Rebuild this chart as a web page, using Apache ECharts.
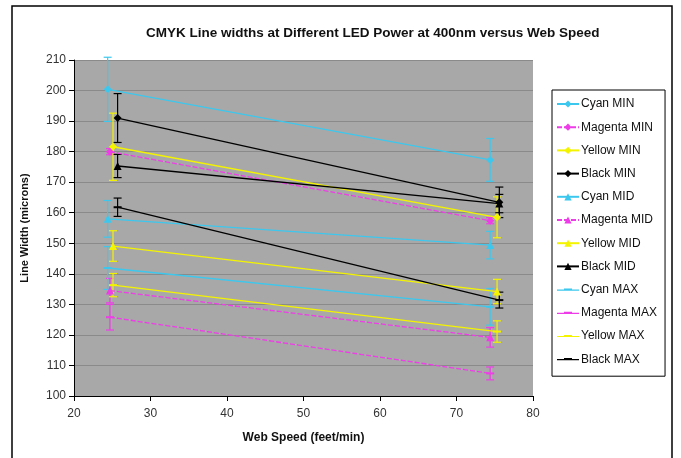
<!DOCTYPE html>
<html><head><meta charset="utf-8">
<script src="https://cdn.jsdelivr.net/npm/echarts@6/dist/echarts.min.js"></script>
<style>html,body{margin:0;padding:0;background:#fff}#c{width:681px;height:458px}</style>
</head><body><div id="c"></div>
<script>
// Series names
const seriesNames = ['Cyan MIN','Magenta MIN','Yellow MIN','Black MIN','Cyan MID','Magenta MID','Yellow MID','Black MID','Cyan MAX','Magenta MAX','Yellow MAX','Black MAX'];
// Web speed (feet/min) per colour
const cyanX = [24.4, 74.4];
const magentaX = [24.7, 74.4];
const yellowX = [25.1, 75.3];
const blackX = [25.7, 75.6];
// Line widths (microns)
const cyanMin = [200.4, 177.3];
const magentaMin = [180.0, 157.4];
const yellowMin = [181.6, 158.5];
const blackMin = [191.0, 163.4];
const cyanMid = [158.0, 149.4];
const magentaMid = [134.5, 119.2];
const yellowMid = [149.1, 134.2];
const blackMid = [175.3, 163.0];
const cyanMax = [141.9, 129.2];
const magentaMax = [125.8, 107.4];
const yellowMax = [136.3, 121.1];
const blackMax = [161.8, 131.4];
// Error bar half-widths
const cyanMinErr = [10.5, 7.0];
const magentaMinErr = [1.0, 1.0];
const yellowMinErr = [11.0, 6.7];
const blackMinErr = [8.0, 5.0];
const cyanMidErr = [6.0, 4.5];
const magentaMidErr = [4.0, 3.2];
const yellowMidErr = [5.0, 4.0];
const blackMidErr = [3.8, 3.0];
const cyanMaxErr = [7.0, 6.0];
const magentaMaxErr = [4.2, 2.1];
const yellowMaxErr = [3.8, 3.5];
const blackMaxErr = [3.0, 2.6];

const CY='#3cc8ee', MG='#ee3ce8', YL='#f4f400', BK='#000000';
const DASH = 'path://M0,0 L10,0 L10,2.5 L0,2.5 Z';
const LEG_DASH = 'path://M0,0 L0.01,0 L0.01,0.01 Z M0,9 L0.01,9 L0.01,8.99 Z M0,4.4 L22,4.4 L22,5.6 L0,5.6 Z M7,3.4 L15,3.4 L15,5.6 L7,5.6 Z';
const defs = [
  [cyanX, cyanMin, cyanMinErr, CY, 'diamond'],
  [magentaX, magentaMin, magentaMinErr, MG, 'diamond'],
  [yellowX, yellowMin, yellowMinErr, YL, 'diamond'],
  [blackX, blackMin, blackMinErr, BK, 'diamond'],
  [cyanX, cyanMid, cyanMidErr, CY, 'triangle'],
  [magentaX, magentaMid, magentaMidErr, MG, 'triangle'],
  [yellowX, yellowMid, yellowMidErr, YL, 'triangle'],
  [blackX, blackMid, blackMidErr, BK, 'triangle'],
  [cyanX, cyanMax, cyanMaxErr, CY, DASH],
  [magentaX, magentaMax, magentaMaxErr, MG, DASH],
  [yellowX, yellowMax, yellowMaxErr, YL, DASH],
  [blackX, blackMax, blackMaxErr, BK, DASH]
];

const series = [];
const errData = [];
defs.forEach((d, i) => {
  const [xs, ys, es, col, sym] = d;
  series.push({
    name: seriesNames[i], type: 'line', z: 3,
    data: xs.map((x, k) => [x, ys[k]]),
    symbol: sym, symbolSize: sym === DASH ? [8, 2] : 8,
    showSymbol: true,
    lineStyle: { color: col, width: 1.3, type: (col === MG) ? [5, 2] : 'solid' },
    itemStyle: { color: col },
    emphasis: { disabled: true }
  });
  xs.forEach((x, k) => errData.push([x, ys[k] - es[k], ys[k] + es[k], i]));
});
const colors = defs.map(d => d[3]);
series.push({
  name: 'errors', type: 'custom', z: 2,
  data: errData,
  renderItem: function (params, api) {
    const x = api.value(0), lo = api.value(1), hi = api.value(2), ci = api.value(3);
    const p1 = api.coord([x, lo]), p2 = api.coord([x, hi]);
    const col = colors[ci];
    const w = 4;
    const st = { stroke: col, lineWidth: 1.2 };
    return { type: 'group', children: [
      { type: 'line', shape: { x1: p1[0], y1: p1[1], x2: p2[0], y2: p2[1] }, style: st },
      { type: 'line', shape: { x1: p1[0]-w, y1: p1[1], x2: p1[0]+w, y2: p1[1] }, style: st },
      { type: 'line', shape: { x1: p2[0]-w, y1: p2[1], x2: p2[0]+w, y2: p2[1] }, style: st }
    ]};
  }
});

const legendData = seriesNames.map((n, i) => (defs[i][4] === DASH ? { name: n, icon: LEG_DASH } : { name: n }));

const chart = echarts.init(document.getElementById('c'), null, { renderer: 'canvas' });
chart.setOption({
  backgroundColor: '#ffffff',
  animation: false,
  title: {
    text: 'CMYK Line widths at Different LED Power at 400nm versus Web Speed',
    left: 141, top: 21,
    textStyle: { fontFamily: 'Liberation Sans', fontWeight: 'bold', fontSize: 13.5, color: '#111' }
  },
  legend: {
    data: legendData, orient: 'vertical', left: 552, top: 90,
    width: 120, height: 300,
    itemWidth: 22, itemHeight: 9, itemGap: 11.2,
    borderColor: '#000', borderWidth: 1, padding: [8, 8, 11, 4],
    textStyle: { fontFamily: 'Liberation Sans', fontSize: 12, color: '#111', padding: [0,0,0,-3] }
  },
  grid: { left: 74, right: 148, top: 60, bottom: 62, show: true, backgroundColor: '#a8a8a8', borderWidth: 0 },
  xAxis: {
    type: 'value', min: 20, max: 80, interval: 10,
    name: 'Web Speed (feet/min)', nameLocation: 'middle', nameGap: 36,
    nameTextStyle: { fontFamily: 'Liberation Sans', fontWeight: 'bold', fontSize: 12, color: '#111' },
    axisLine: { lineStyle: { color: '#000', width: 1 } },
    axisTick: { show: true, length: 5, lineStyle: { color: '#000' } },
    axisLabel: { fontFamily: 'Liberation Sans', fontSize: 12, color: '#333', margin: 12 },
    splitLine: { show: false }
  },
  yAxis: {
    type: 'value', min: 100, max: 210, interval: 10,
    name: 'Line Width (microns)', nameLocation: 'middle', nameGap: 44,
    nameTextStyle: { fontFamily: 'Liberation Sans', fontWeight: 'bold', fontSize: 11, color: '#111' },
    axisLine: { show: true, lineStyle: { color: '#000', width: 1 } },
    axisTick: { show: true, length: 5, lineStyle: { color: '#000' } },
    axisLabel: { fontFamily: 'Liberation Sans', fontSize: 12, color: '#333', margin: 8 },
    splitLine: { show: true, lineStyle: { color: '#8a8a8a', width: 1 } }
  },
  graphic: [{
    type: 'rect', silent: true, z: -1,
    shape: { x: 12, y: 6, width: 660, height: 470 },
    style: { fill: 'none', stroke: '#000', lineWidth: 1.5 }
  }],
  series: series
});
</script></body></html>
